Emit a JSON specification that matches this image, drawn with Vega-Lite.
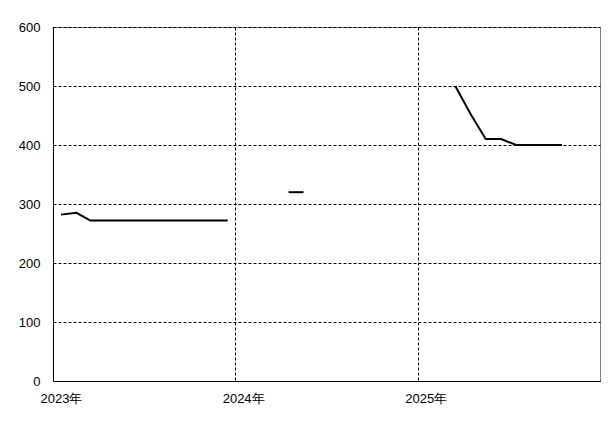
{
  "$schema": "https://vega.github.io/schema/vega-lite/v6.json",
  "width": 547,
  "height": 354,
  "autosize": {"type": "none"},
  "padding": {"left": 53, "top": 27, "right": 15, "bottom": 43},
  "background": "white",
  "config": {
    "view": {"stroke": "#808080", "strokeWidth": 1},
    "axis": {
      "labelFont": "Liberation Sans",
      "labelFontSize": 13,
      "labelColor": "black",
      "ticks": false,
      "domainColor": "black",
      "domainWidth": 1,
      "gridColor": "black",
      "gridDash": [3, 2],
      "gridWidth": 1,
      "gridOpacity": 1
    }
  },
  "data": {
    "values": [
      {"date": "2023-01-17", "value": 282, "seg": "a"},
      {"date": "2023-02-17", "value": 285, "seg": "a"},
      {"date": "2023-03-17", "value": 272, "seg": "a"},
      {"date": "2023-04-17", "value": 272, "seg": "a"},
      {"date": "2023-05-17", "value": 272, "seg": "a"},
      {"date": "2023-06-17", "value": 272, "seg": "a"},
      {"date": "2023-07-17", "value": 272, "seg": "a"},
      {"date": "2023-08-17", "value": 272, "seg": "a"},
      {"date": "2023-09-17", "value": 272, "seg": "a"},
      {"date": "2023-10-17", "value": 272, "seg": "a"},
      {"date": "2023-11-17", "value": 272, "seg": "a"},
      {"date": "2023-12-17", "value": 272, "seg": "a"},
      {"date": "2024-04-17", "value": 320, "seg": "b"},
      {"date": "2024-05-17", "value": 320, "seg": "b"},
      {"date": "2025-03-17", "value": 500, "seg": "c"},
      {"date": "2025-04-17", "value": 452, "seg": "c"},
      {"date": "2025-05-17", "value": 410, "seg": "c"},
      {"date": "2025-06-17", "value": 410, "seg": "c"},
      {"date": "2025-07-17", "value": 400, "seg": "c"},
      {"date": "2025-08-17", "value": 400, "seg": "c"},
      {"date": "2025-09-17", "value": 400, "seg": "c"},
      {"date": "2025-10-17", "value": 400, "seg": "c"}
    ]
  },
  "mark": {"type": "line", "color": "black", "strokeWidth": 2},
  "encoding": {
    "x": {
      "field": "date",
      "type": "temporal",
      "scale": {"domain": ["2023-01-01T00:00:00", "2026-01-01T00:00:00"], "nice": false},
      "axis": {
        "title": null,
        "format": "%Y年",
        "values": ["2023-01-01T00:00:00", "2024-01-01T00:00:00", "2025-01-01T00:00:00"],
        "labelAlign": "left",
        "labelOffset": -13,
        "labelPadding": 11,
        "labelBound": false,
        "labelOverlap": false
      }
    },
    "y": {
      "field": "value",
      "type": "quantitative",
      "scale": {"domain": [0, 600], "nice": false},
      "axis": {
        "title": null,
        "values": [0, 100, 200, 300, 400, 500, 600],
        "labelPadding": 13
      }
    },
    "detail": {"field": "seg", "type": "nominal"}
  }
}
